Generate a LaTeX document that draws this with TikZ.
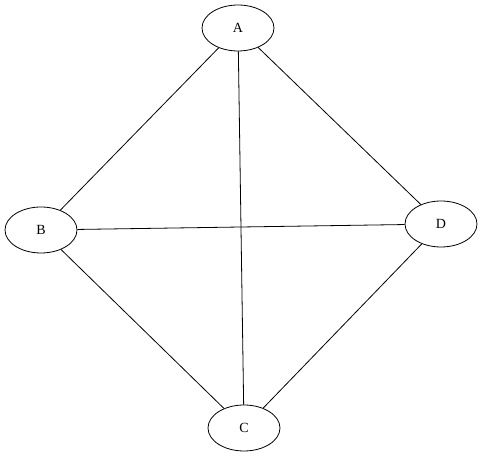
\documentclass[tikz,border=0pt]{standalone}
\usepackage{fontspec}
\setmainfont{Liberation Serif}
\usetikzlibrary{shapes.geometric}

\begin{document}
\begin{tikzpicture}[x=1pt,y=1pt,
    vertex/.style={draw, ellipse, line width=0.8pt, minimum width=72pt,
      minimum height=46pt, inner sep=0pt, font=\fontsize{14}{16}\selectfont},
    link/.style={draw, line width=0.8pt}]
  \path[use as bounding box] (0,0) rectangle (483,458);

  % Vertices
  \node[vertex] (A) at (238,430) {A};
  \node[vertex] (B) at (41,228) {B};
  \node[vertex] (D) at (441,234) {D};
  \node[vertex] (C) at (244,30) {C};

  % Edges
  \foreach \from/\to in {A/B, A/C, A/D, B/D, B/C, D/C}
    \path[link] (\from) -- (\to);
\end{tikzpicture}
\end{document}
